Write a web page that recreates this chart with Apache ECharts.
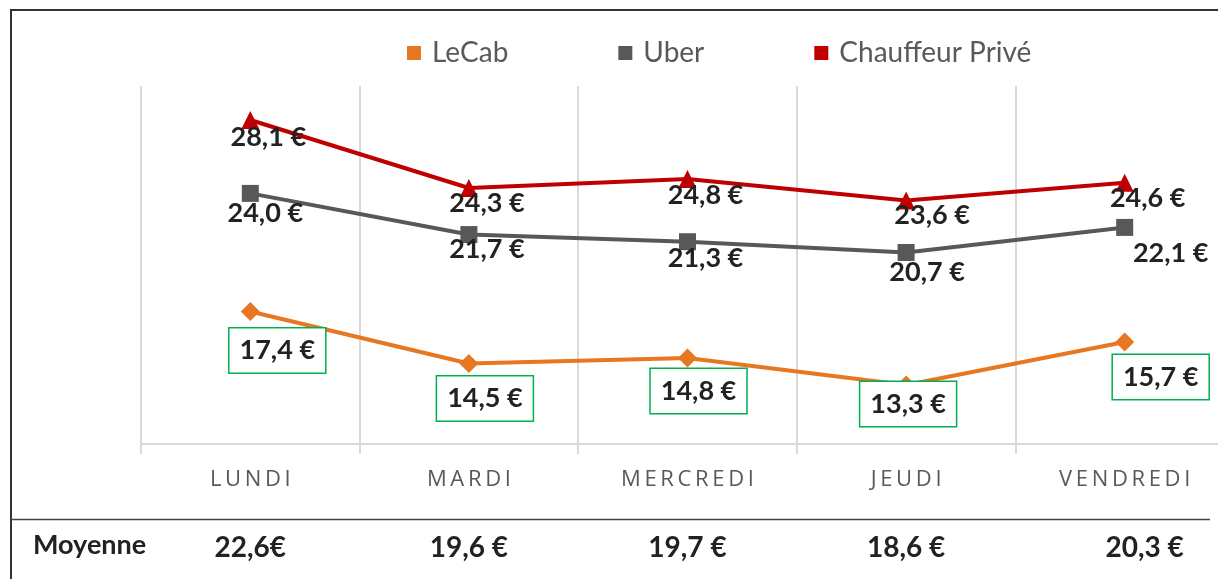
<!DOCTYPE html>
<html>
<head>
<meta charset="utf-8">
<script src="https://cdn.jsdelivr.net/npm/echarts@6/dist/echarts.min.js"></script>
<style>
  html,body{margin:0;padding:0;background:#fff;}
  #chart{width:1218px;height:579px;}
</style>
</head>
<body>
<div id="chart"></div>
<script>
(function(){
  // ===== Données =====
  const JOURS = ["LUNDI","MARDI","MERCREDI","JEUDI","VENDREDI"];
  const LECAB = [17.4, 14.5, 14.8, 13.3, 15.7];
  const UBER = [24.0, 21.7, 21.3, 20.7, 22.1];
  const CHAUFFEUR = [28.1, 24.3, 24.8, 23.6, 24.6];
  const MOYENNES = ["22,6€", "19,6 €", "19,7 €", "18,6 €", "20,3 €"];

  // décalages des étiquettes (mise en page, pas des données)
  const offLeCab = [[27,39],[16,35],[11,33],[2,19],[36,35]];
  const offUber = [[15,20],[18,15],[18,17],[21,20],[46,26]];
  const offChauffeur = [[18,17],[18,15],[18,16],[26,15],[23,16]];

  const fmtEuro = v => v.toFixed(1).replace('.', ',') + ' €';
  const spaced = s => s.split('').join('\u2009');

  function withOffsets(vals, offs){
    return vals.map((v,i)=>({value:v, label:{offset:offs[i]}}));
  }

  const labelFont = {fontFamily:'Lato', fontWeight:'bold', fontSize:27, color:'#222'};

  const chart = echarts.init(document.getElementById('chart'), null, {renderer:'canvas'});
  chart.setOption({
    animation:false,
    textStyle:{fontFamily:'Lato'},
    legend:{
      top:34, left:402, itemWidth:14, itemHeight:14, itemGap:110,
      icon:'rect',
      textStyle:{fontSize:28, color:'#595959', fontFamily:'Lato', padding:[0,0,0,6]},
      data:['LeCab','Uber','Chauffeur Privé']
    },
    grid:{left:141, top:86, width:1093, height:358, outerBoundsMode:'none', containLabel:false},
    xAxis:[{
      type:'category', data:JOURS, boundaryGap:true,
      axisLine:{lineStyle:{color:'#d9d9d9', width:2}},
      axisTick:{show:true, length:10, lineStyle:{color:'#d9d9d9', width:2}},
      splitLine:{show:true, lineStyle:{color:'#d9d9d9', width:2}},
      axisLabel:{margin:25, fontSize:22, color:'#595959', fontFamily:'Open Sans', formatter:spaced}
    },{
      type:'category', data:MOYENNES, position:'bottom', offset:90, boundaryGap:true,
      axisLine:{show:false}, axisTick:{show:false}, splitLine:{show:false},
      axisLabel:{
        margin:0, fontSize:28, fontWeight:'bold', color:'#222', fontFamily:'Lato',
        formatter:(v,i)=> i===MOYENNES.length-1 ? '{last|'+v+'}' : v,
        rich:{last:{padding:[0,0,0,40], fontSize:28, fontWeight:'bold', color:'#222', fontFamily:'Lato'}}
      }
    }],
    yAxis:{type:'value', min:10, max:30, show:false, splitLine:{show:false}},
    series:[
      {
        name:'LeCab', type:'line', data:withOffsets(LECAB, offLeCab),
        color:'#E87722', symbol:'diamond', symbolSize:19,
        lineStyle:{width:4, color:'#E87722'}, itemStyle:{color:'#E87722'},
        label:Object.assign({show:true, position:'inside', formatter:p=>fmtEuro(p.value),
          backgroundColor:'#fff', borderColor:'#00B050', borderWidth:1.5,
          padding:[9,10,8,10]}, labelFont),
        z:3
      },
      {
        name:'Uber', type:'line', data:withOffsets(UBER, offUber),
        color:'#58585A', symbol:'rect', symbolSize:17,
        lineStyle:{width:4, color:'#58585A'}, itemStyle:{color:'#58585A'},
        label:Object.assign({show:true, position:'inside', formatter:p=>fmtEuro(p.value)}, labelFont),
        z:3
      },
      {
        name:'Chauffeur Privé', type:'line', data:withOffsets(CHAUFFEUR, offChauffeur),
        color:'#C00000', symbol:'triangle', symbolSize:18,
        lineStyle:{width:4, color:'#C00000'}, itemStyle:{color:'#C00000'},
        label:Object.assign({show:true, position:'inside', formatter:p=>fmtEuro(p.value)}, labelFont),
        z:3
      }
    ],
    graphic:[
      {type:'line', shape:{x1:11, y1:10, x2:1218, y2:10}, style:{stroke:'#333', lineWidth:2}, silent:true},
      {type:'line', shape:{x1:11, y1:9, x2:11, y2:579}, style:{stroke:'#333', lineWidth:2}, silent:true},
      {type:'line', shape:{x1:10, y1:519.5, x2:1210, y2:519.5}, style:{stroke:'#444', lineWidth:1.5}, silent:true},
      {type:'text', left:33, top:532, style:{text:'Moyenne', fontFamily:'Lato', fontWeight:'bold', fontSize:27, fill:'#222'}, silent:true}
    ]
  });
})();
</script>
</body>
</html>
